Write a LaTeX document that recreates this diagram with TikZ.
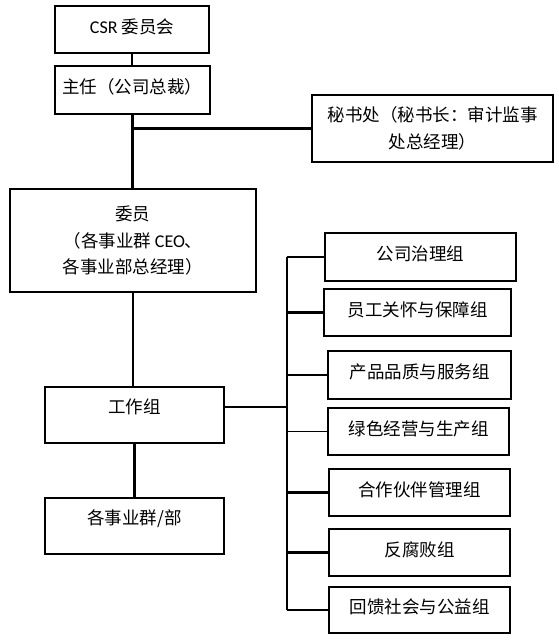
\documentclass[tikz,border=0pt]{standalone}
\usepackage{fontspec}
\setmainfont{Noto Sans CJK SC}
\newfontfamily\latfont{Carlito}
\usepackage{tikz}

\begin{document}
\begin{tikzpicture}[x=1pt, y=-1pt,
    box/.style={draw, line width=1.2pt, inner sep=0pt, font=\fontsize{17.5}{26.5}\selectfont, text height=13pt, text depth=6pt},
    lowtext/.style={text depth=16pt},
    multi/.style={align=center, text height=, text depth=},
    thickline/.style={line width=2.4pt},
    thinline/.style={line width=1.4pt}]
    \useasboundingbox (0,0) rectangle (558,641);
    % left column
    \node[box, minimum width=154pt, minimum height=47pt] (csr) at (132,29.5) {{\latfont\fontsize{18}{22}\selectfont CSR} 委员会};
    \node[box, minimum width=155pt, minimum height=48pt] (zhuren) at (132.5,90) {主任（公司总裁）};
    \node[box, multi, minimum width=241pt, minimum height=67pt] (mishu) at (432.5,128.5) {秘书处（秘书长：审计监事\\处总经理）};
    \node[box, multi, minimum width=246pt, minimum height=103pt] (weiyuan) at (133,240.5) {委员\\（各事业群 {\latfont\fontsize{18}{22}\selectfont CEO}、\\各事业部总经理）};
    \node[box, lowtext, minimum width=179pt, minimum height=56pt] (gongzuo) at (134.5,415) {工作组};
    \node[box, lowtext, minimum width=179pt, minimum height=56pt] (shiye) at (134.5,526) {各事业群/部};
    % working groups
    \node[box, minimum width=191pt, minimum height=48pt] (gov) at (420.5,257) {公司治理组};
    \node[box, minimum width=187pt, minimum height=47pt] (staff) at (417.5,312.5) {员工关怀与保障组};
    \node[box, minimum width=183pt, minimum height=48pt] (product) at (419.5,375) {产品品质与服务组};
    \node[box, minimum width=181pt, minimum height=47pt] (green) at (418.5,431.5) {绿色经营与生产组};
    \node[box, minimum width=181pt, minimum height=47pt] (partner) at (419.5,492.5) {合作伙伴管理组};
    \node[box, minimum width=181pt, minimum height=47pt] (anticorr) at (419.5,552.5) {反腐败组};
    \node[box, minimum width=181pt, minimum height=46pt] (charity) at (419.5,610) {回馈社会与公益组};
    \coordinate (bus) at (287,407);

    \draw[thickline] (csr.south) -- (csr.south |- zhuren.north);
    \draw[thickline] (zhuren.south) -- (zhuren.south |- weiyuan.north);
    \draw[thickline] (zhuren.south |- mishu.west) -- (mishu.west);
    \draw[thinline] (weiyuan.south) -- (weiyuan.south |- gongzuo.north);
    \draw[thickline] (gongzuo.south) -- (shiye.north);
    \draw[thickline] ([yshift=8pt]gongzuo.east) -- (bus);
    \draw[thinline] (bus |- gov.west) -- (bus |- charity.west);
    \foreach \g in {gov, staff, product, partner, anticorr, charity}
        \draw[thickline] (bus |- \g.west) -- (\g.west);
    \draw[thinline] (bus |- green.west) -- (green.west);
\end{tikzpicture}
\end{document}
